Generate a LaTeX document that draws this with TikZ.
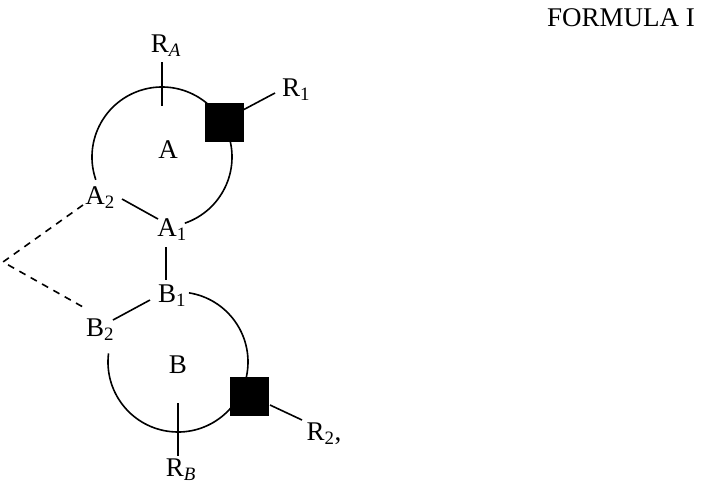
\documentclass[tikz,border=0pt]{standalone}
\usepackage{fontspec}
\setmainfont{Liberation Serif}
\usetikzlibrary{positioning,calc}
\newcommand{\subix}[1]{\textsubscript{#1}}
\tikzset{
  ring/.style={line width=1.6pt},
  sub/.style={fill=black,minimum size=39pt,inner sep=0pt},
  lbl/.style={font=\fontsize{27}{30}\selectfont,inner sep=0pt},
  bond/.style={line width=1.6pt},
  link/.style={line width=1.6pt,dash pattern=on 7pt off 6pt}
}
\begin{document}
\begin{tikzpicture}[x=1pt,y=1pt]
\useasboundingbox (0,0) rectangle (702,-488);
\node[lbl] (title) at (621,-18) {FORMULA I};
% ring A
\coordinate (cA) at (162,-157);
\draw[ring] ($(cA)+(-71:70)$) arc (-71:199:70);
\node[sub] (sqA) at (224,-122) {};
\node[lbl] (A) at (168,-150) {A};
\node[lbl] (RA) at (166,-46) {R\subix{\itshape A}};
\node[lbl] (R1) at (296,-90) {R\subix{1}};
\node[lbl] (A1) at (172,-230) {A\subix{1}};
\node[lbl] (A2) at (100,-198) {A\subix{2}};
\coordinate (tA1) at (162,-62);
\coordinate (tA2) at (162,-106);
\draw[bond] (tA1) -- (tA2);
\draw[bond] (243,-110) -- (275,-93);
\draw[bond] (122,-199) -- (158,-219);
% ring B
\coordinate (cB) at (178,-362);
\draw[ring] ($(cB)+(81:70)$) arc (81:-187:70);
\node[sub] (sqB) at (249,-396) {};
\node[lbl] (B) at (178,-365) {B};
\node[lbl] (RB) at (181,-470) {R\subix{\itshape B}};
\node[lbl] (R2) at (324,-434) {R\subix{2},};
\node[lbl] (B1) at (172,-296) {B\subix{1}};
\node[lbl] (B2) at (100,-330) {B\subix{2}};
\coordinate (tB1) at (178,-403);
\coordinate (tB2) at (178,-456);
\draw[bond] (tB1) -- (tB2);
\draw[bond] (270,-405) -- (302,-420);
\draw[bond] (150,-300) -- (113,-320);
\draw[bond] (166,-247) -- (166,-280);
% bridge
\coordinate (apex) at (3,-262);
\draw[link] (83,-205) -- (apex) -- (83,-307);
\end{tikzpicture}
\end{document}
